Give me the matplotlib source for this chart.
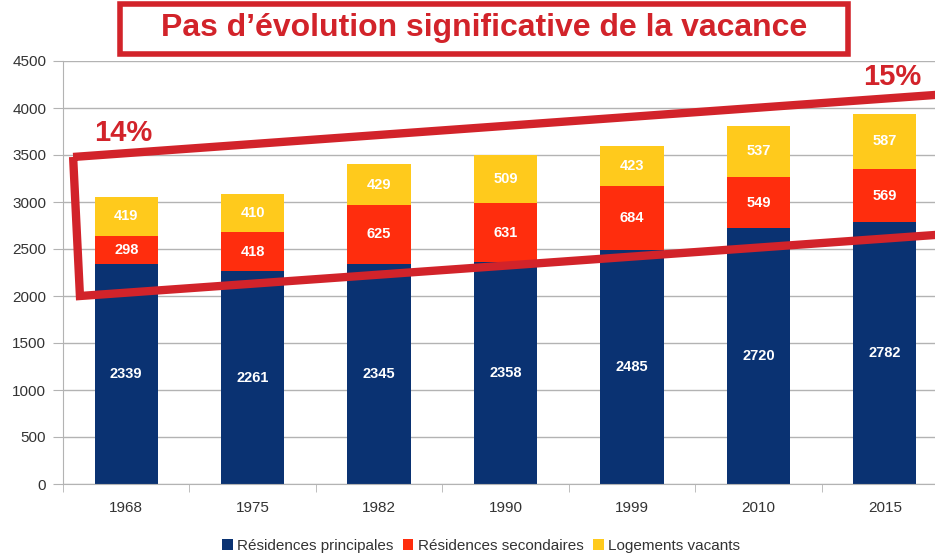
import numpy as np
from matplotlib import pyplot as plt
from matplotlib.patches import Polygon, Rectangle

# data
years = ['1968', '1975', '1982', '1990', '1999', '2010', '2015']
principales = [2339, 2261, 2345, 2358, 2485, 2720, 2782]
secondaires = [298, 418, 625, 631, 684, 549, 569]
vacants = [419, 410, 429, 509, 423, 537, 587]

c_blue = '#0a3272'
c_red = '#ff2d0d'
c_yellow = '#ffca1c'
c_frame = '#d2232a'

plt.rcParams['font.family'] = ['Liberation Sans', 'DejaVu Sans']

W, H = 935, 554
fig = plt.figure(figsize=(W / 100, H / 100), dpi=100)
# axes go a bit past the right edge, like the cropped original
ax = fig.add_axes([63 / W, 70 / H, (948 - 63) / W, (484 - 61) / H])

x = np.arange(len(years))
p = np.array(principales)
s = np.array(secondaires)
v = np.array(vacants)

ax.bar(x, p, 0.5, color=c_blue, zorder=2, label='Résidences principales')
ax.bar(x, s, 0.5, bottom=p, color=c_red, zorder=2, label='Résidences secondaires')
ax.bar(x, v, 0.5, bottom=p + s, color=c_yellow, zorder=2, label='Logements vacants')

for i in range(len(years)):
    for val, base in ((p[i], 0), (s[i], p[i]), (v[i], p[i] + s[i])):
        ax.text(x[i], base + val / 2, str(val), ha='center', va='center',
                color='white', fontsize=10.5, fontweight='bold', zorder=3)

ax.set_xlim(-0.5, len(years) - 0.5)
ax.set_ylim(0, 4500)
ax.set_yticks(range(0, 4501, 500))
ax.set_xticks(x)
ax.set_xticklabels(years)
ax.set_xticks(np.arange(-0.5, len(years), 1), minor=True)
ax.tick_params(axis='x', which='major', length=0, pad=12, labelsize=11, labelcolor='#333333')
ax.tick_params(axis='x', which='minor', length=6, color='#b3b3b3')
ax.tick_params(axis='y', length=7, color='#b3b3b3', pad=5, labelsize=11, labelcolor='#333333')
ax.grid(axis='y', color='#b3b3b3', linewidth=1, zorder=0)
for side in ('top', 'right'):
    ax.spines[side].set_visible(False)
for side in ('left', 'bottom'):
    ax.spines[side].set_color('#b3b3b3')

# red tilted frame around the upper part of the bars
frame = Polygon([(-0.42, 3479), (7.0, 4197), (7.0, 2707), (-0.366, 2000)],
                closed=True, fill=False, edgecolor=c_frame, linewidth=6,
                clip_on=False, zorder=4)
ax.add_patch(frame)
ax.text(-0.02, 3730, '14%', ha='center', va='center', color=c_frame,
        fontsize=21, fontweight='bold', zorder=5)
ax.text(6.06, 4330, '15%', ha='center', va='center', color=c_frame,
        fontsize=21, fontweight='bold', zorder=5, clip_on=False)

# title box
fig.patches.append(Rectangle((120 / W, 1 - 54 / H), (848 - 120) / W, (54 - 4) / H,
                             transform=fig.transFigure, fill=False,
                             edgecolor=c_frame, linewidth=4))
fig.text(484 / W, 1 - 28 / H, 'Pas d\u2019évolution significative de la vacance',
         ha='center', va='center', color=c_frame, fontsize=23, fontweight='bold')

fig.legend(loc='center', bbox_to_anchor=(481 / W, 1 - 546 / H), ncol=3,
           frameon=False, fontsize=11, handlelength=0.7, handleheight=0.7,
           handletextpad=0.3, columnspacing=0.6, labelcolor='#333333')

fig.savefig('out.png', dpi=100)
